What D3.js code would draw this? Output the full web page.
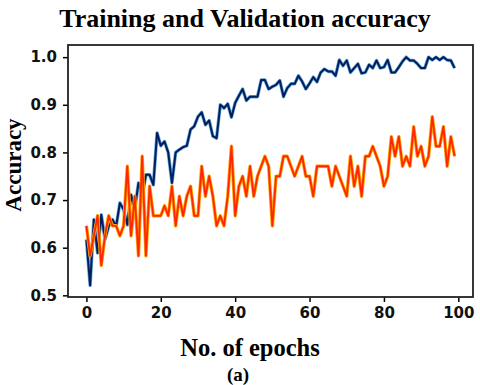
<!DOCTYPE html>
<html>
<head>
<meta charset="utf-8">
<script src="https://cdn.jsdelivr.net/npm/d3@7"></script>
<style>
  html, body { margin: 0; padding: 0; background: #fff; }
  .tick text { font-family: "DejaVu Sans", sans-serif; font-weight: bold; }
</style>
</head>
<body>
<svg width="480" height="385"></svg>
<script>
var epochs = d3.range(0, 100);

var trainAcc = [
  0.617, 0.521, 0.659, 0.589, 0.669, 0.617, 0.645, 0.659, 0.645, 0.694,
  0.680, 0.648, 0.711, 0.680, 0.736, 0.708, 0.753, 0.753, 0.732, 0.841,
  0.814, 0.823, 0.800, 0.736, 0.800, 0.806, 0.811, 0.814, 0.848, 0.855,
  0.875, 0.884, 0.858, 0.867, 0.834, 0.830, 0.900, 0.893, 0.902, 0.874,
  0.904, 0.919, 0.933, 0.909, 0.917, 0.917, 0.917, 0.952, 0.952, 0.933,
  0.938, 0.942, 0.951, 0.917, 0.935, 0.944, 0.944, 0.961, 0.949, 0.933,
  0.945, 0.958, 0.948, 0.968, 0.975, 0.970, 0.970, 0.961, 0.994, 0.982,
  0.993, 0.968, 0.977, 0.986, 0.966, 0.968, 0.984, 0.977, 0.993, 0.977,
  0.979, 0.994, 0.968, 0.968, 0.979, 0.991, 1.000, 0.993, 0.993, 0.986,
  0.977, 0.977, 1.000, 0.994, 1.000, 0.994, 1.000, 0.994, 0.993, 0.977
];

var valAcc = [
  0.646, 0.583, 0.625, 0.667, 0.563, 0.625, 0.667, 0.646, 0.646, 0.625,
  0.646, 0.771, 0.625, 0.708, 0.583, 0.792, 0.583, 0.729, 0.667, 0.667,
  0.667, 0.688, 0.667, 0.729, 0.646, 0.708, 0.667, 0.708, 0.729, 0.667,
  0.667, 0.771, 0.708, 0.750, 0.708, 0.646, 0.667, 0.646, 0.708, 0.813,
  0.667, 0.729, 0.750, 0.708, 0.771, 0.708, 0.750, 0.771, 0.792, 0.771,
  0.646, 0.750, 0.750, 0.792, 0.792, 0.771, 0.750, 0.771, 0.792, 0.750,
  0.750, 0.708, 0.771, 0.771, 0.771, 0.771, 0.729, 0.771, 0.750, 0.729,
  0.708, 0.792, 0.729, 0.771, 0.708, 0.792, 0.792, 0.813, 0.792, 0.771,
  0.729, 0.750, 0.833, 0.792, 0.833, 0.771, 0.792, 0.771, 0.854, 0.792,
  0.813, 0.771, 0.792, 0.875, 0.813, 0.813, 0.854, 0.771, 0.833, 0.792
];

var xTicks = [0, 20, 40, 60, 80, 100];
var yTicks = [0.5, 0.6, 0.7, 0.8, 0.9, 1.0];

(function () {
  var svg = d3.select("svg"),
    mLeft = 68, mRight = 473, mTop = 45, mBottom = 297;

  var x = d3.scaleLinear().domain([-4.95, 103.95]).range([mLeft, mRight]);
  var y = d3.scaleLinear().domain([0.4965, 1.0255]).range([mBottom, mTop]);

  // axes
  svg.append("g")
    .attr("transform", "translate(0," + mBottom + ")")
    .call(d3.axisBottom(x).tickValues(xTicks).tickSize(5).tickPadding(5).tickFormat(d3.format("d")))
    .call(function (g) { g.select(".domain").remove(); })
    .call(function (g) { g.selectAll(".tick line").attr("stroke", "#000").attr("stroke-width", 1.5); })
    .call(function (g) { g.selectAll(".tick text").attr("font-size", 15).attr("fill", "#111"); });

  svg.append("g")
    .attr("transform", "translate(" + mLeft + ",0)")
    .call(d3.axisLeft(y).tickValues(yTicks).tickSize(5).tickPadding(6).tickFormat(d3.format(".1f")))
    .call(function (g) { g.select(".domain").remove(); })
    .call(function (g) { g.selectAll(".tick line").attr("stroke", "#000").attr("stroke-width", 1.5); })
    .call(function (g) { g.selectAll(".tick text").attr("font-size", 15).attr("fill", "#111"); });

  var line = function (vals) {
    return d3.line()
      .x(function (d) { return x(d); })
      .y(function (d) { return y(vals[d]); })(epochs);
  };

  // training (blue) with soft halo
  svg.append("path").attr("d", line(trainAcc))
    .attr("fill", "none").attr("stroke", "#3d8fd0").attr("stroke-width", 3.4)
    .attr("stroke-linejoin", "round").attr("opacity", 0.8);
  svg.append("path").attr("d", line(trainAcc))
    .attr("fill", "none").attr("stroke", "#001f5c").attr("stroke-width", 2)
    .attr("stroke-linejoin", "round");

  // validation (orange)
  svg.append("path").attr("d", line(valAcc))
    .attr("fill", "none").attr("stroke", "#ffa200").attr("stroke-width", 3.4)
    .attr("stroke-linejoin", "round");
  svg.append("path").attr("d", line(valAcc))
    .attr("fill", "none").attr("stroke", "#ff2600").attr("stroke-width", 1.8)
    .attr("stroke-linejoin", "round");

  // frame
  svg.append("rect")
    .attr("x", mLeft).attr("y", mTop)
    .attr("width", mRight - mLeft).attr("height", mBottom - mTop)
    .attr("fill", "none").attr("stroke", "#222").attr("stroke-width", 1.8);

  // texts
  svg.append("text")
    .attr("x", 245).attr("y", 27)
    .attr("text-anchor", "middle")
    .attr("font-family", "Liberation Serif, serif").attr("font-weight", "bold")
    .attr("font-size", 26)
    .text("Training and Validation accuracy");

  svg.append("text")
    .attr("transform", "translate(21,165)rotate(-90)")
    .attr("text-anchor", "middle")
    .attr("font-family", "Liberation Serif, serif").attr("font-weight", "bold")
    .attr("font-size", 23)
    .text("Accuracy");

  svg.append("text")
    .attr("x", 250).attr("y", 356)
    .attr("text-anchor", "middle")
    .attr("font-family", "Liberation Serif, serif").attr("font-weight", "bold")
    .attr("font-size", 24.5)
    .text("No. of epochs");

  svg.append("text")
    .attr("x", 238).attr("y", 381)
    .attr("text-anchor", "middle")
    .attr("font-family", "Liberation Serif, serif").attr("font-weight", "bold")
    .attr("font-size", 19)
    .text("(a)");
})();
</script>
</body>
</html>
